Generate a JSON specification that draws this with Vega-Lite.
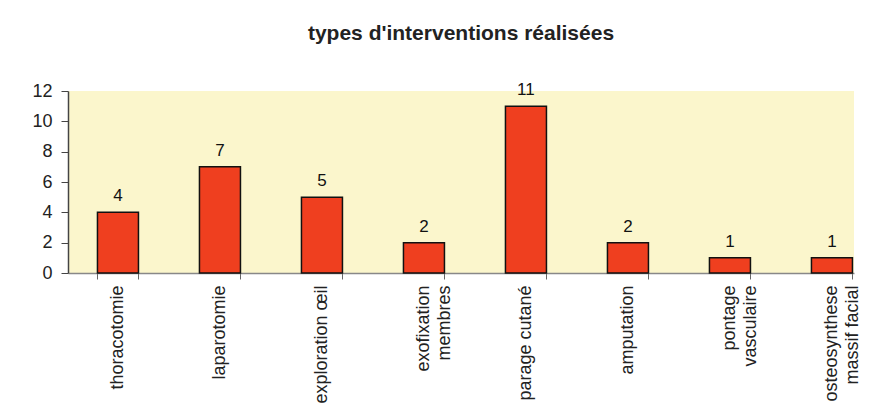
{
  "$schema": "https://vega.github.io/schema/vega-lite/v6.json",
  "autosize": "none",
  "width": 786,
  "height": 182,
  "padding": {"left": 68, "top": 91, "right": 15, "bottom": 134},
  "background": "white",
  "title": {
    "text": "types d'interventions réalisées",
    "font": "Liberation Sans",
    "fontSize": 21,
    "fontWeight": "bold",
    "color": "#222222",
    "anchor": "middle",
    "offset": 37
  },
  "data": {
    "values": [
      {"type": "thoracotomie", "n": 4},
      {"type": "laparotomie", "n": 7},
      {"type": "exploration œil", "n": 5},
      {"type": "exofixation\nmembres", "n": 2},
      {"type": "parage cutané", "n": 11},
      {"type": "amputation", "n": 2},
      {"type": "pontage\nvasculaire", "n": 1},
      {"type": "osteosynthese\nmassif facial", "n": 1}
    ]
  },
  "encoding": {
    "x": {
      "field": "type",
      "type": "nominal",
      "sort": null,
      "scale": {"paddingInner": 0.598, "paddingOuter": 0.152, "align": 0.95},
      "axis": {
        "title": null,
        "labelAngle": -90,
        "labelExpr": "split(datum.label, '\\n')",
        "labelFont": "Liberation Sans",
        "labelFontSize": 18,
        "labelColor": "#222222",
        "labelPadding": 6,
        "labelLineHeight": 21,
        "tickBand": "extent",
        "tickSize": 6,
        "tickColor": "#666666",
        "domainColor": "#888888",
        "domainWidth": 1.5
      }
    },
    "y": {
      "field": "n",
      "type": "quantitative",
      "scale": {"domain": [0, 12], "nice": false},
      "axis": {
        "title": null,
        "values": [0, 2, 4, 6, 8, 10, 12],
        "grid": false,
        "labelFont": "Liberation Sans",
        "labelFontSize": 18,
        "labelColor": "#222222",
        "labelPadding": 9,
        "tickSize": 7,
        "tickColor": "#444444",
        "domainColor": "#444444",
        "domainWidth": 1.5
      }
    }
  },
  "layer": [
    {
      "mark": {"type": "bar", "color": "#EF3F1F", "stroke": "#111111", "strokeWidth": 1.5}
    },
    {
      "mark": {"type": "text", "dy": -16, "font": "Liberation Sans", "fontSize": 17, "color": "#111111"},
      "encoding": {"text": {"field": "n", "type": "quantitative"}}
    }
  ],
  "config": {
    "view": {"fill": "#FBF6CC", "stroke": null}
  }
}
